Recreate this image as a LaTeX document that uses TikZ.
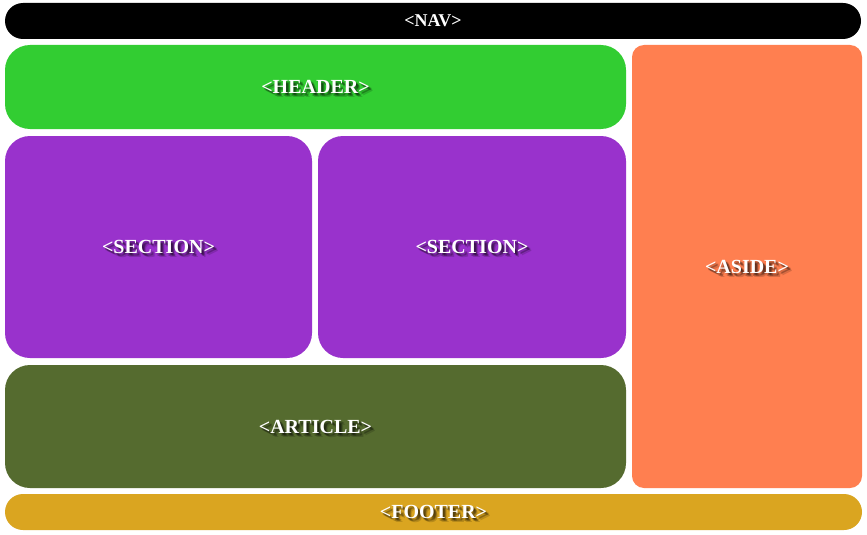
\documentclass[tikz,border=0pt]{standalone}
\usepackage{fontspec}
\setmainfont{Liberation Serif}
\usetikzlibrary{calc}

\definecolor{headergreen}{HTML}{32CD32}
\definecolor{sectionpurple}{HTML}{9932CC}
\definecolor{articleolive}{HTML}{556B2F}
\definecolor{asidecoral}{HTML}{FF7F50}
\definecolor{footergold}{HTML}{DAA520}

\begin{document}
\begin{tikzpicture}[x=1pt, y=-1pt,
    box/.style={rectangle, inner sep=0pt, outer sep=0pt, rounded corners=25pt},
    tag/.style={text=white, inner sep=0pt},
    tagshadow/.style={text=black, opacity=0.16, inner sep=0pt}]
    % Page
    \fill[white] (0,0) rectangle (867,535);
    \useasboundingbox (0,0) rectangle (867,535);

    % Layout boxes
    \node[box, fill=black, rounded corners=18pt, minimum width=856pt, minimum height=36pt] (nav) at (433,21) {};
    \node[box, fill=headergreen, minimum width=621pt, minimum height=84pt] (header) at (315.5,87) {};
    \node[box, fill=sectionpurple, minimum width=307pt, minimum height=222pt] (sectionA) at (158.5,247) {};
    \node[box, fill=sectionpurple, minimum width=308pt, minimum height=222pt] (sectionB) at (472,247) {};
    \node[box, fill=articleolive, minimum width=621pt, minimum height=123pt] (article) at (315.5,426.5) {};
    \node[box, fill=asidecoral, rounded corners=12pt, minimum width=230pt, minimum height=443pt] (aside) at (747,266.5) {};
    \node[box, fill=footergold, rounded corners=18pt, minimum width=857pt, minimum height=36pt] (footer) at (433.5,512) {};

    % Tags with a soft shadow
    \foreach \n/\t/\s in {nav/NAV/18, header/HEADER/20, sectionA/SECTION/20, sectionB/SECTION/20,
                          article/ARTICLE/20, aside/ASIDE/20, footer/FOOTER/20} {
        \foreach \dx/\dy in {1/1, 2/2, 3/3, 2/3, 3/2, 4/4} {
            \node[tagshadow, font=\bfseries\fontsize{\s}{\s}\selectfont] at ($(\n.center)+(\dx,\dy)$) {<\t>};
        }
        \node[tag, font=\bfseries\fontsize{\s}{\s}\selectfont] (\n-tag) at (\n.center) {<\t>};
    }
\end{tikzpicture}
\end{document}
